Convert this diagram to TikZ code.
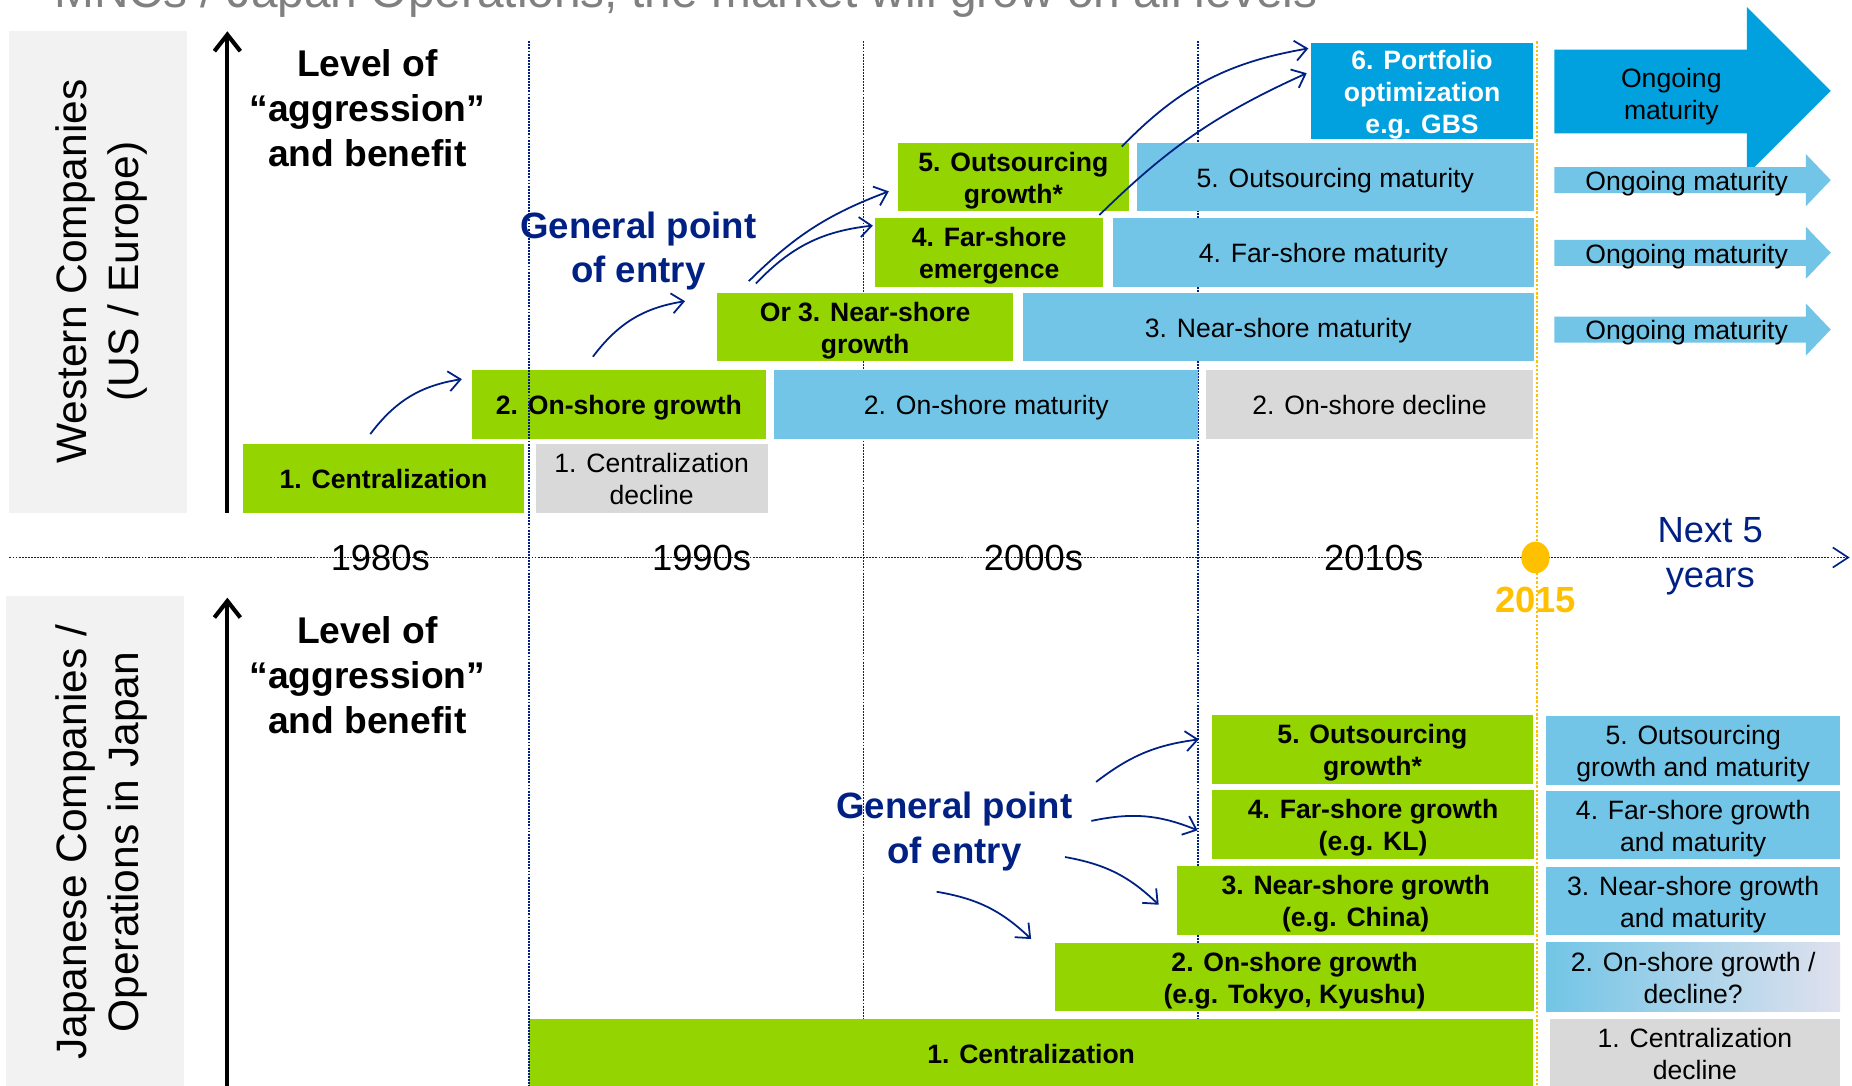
\documentclass[tikz,border=0pt]{standalone}
\usepackage{fontspec}
\setmainfont{Liberation Sans}
\usetikzlibrary{arrows.meta}

\definecolor{lime}{RGB}{148,212,0}
\definecolor{sky}{RGB}{114,197,230}
\definecolor{ocean}{RGB}{0,161,222}
\definecolor{stone}{RGB}{217,217,217}
\definecolor{mist}{RGB}{242,242,242}
\definecolor{inkblue}{RGB}{0,33,131}
\definecolor{amber}{RGB}{255,192,0}
\definecolor{titlegray}{RGB}{128,128,128}
\definecolor{lavender}{RGB}{224,225,238}
\definecolor{haze}{RGB}{192,195,218}

% fixed line box for the stage labels, so every label sits at the same height
\newcommand\capstrut{\rule{0pt}{22.5pt}}
\newcommand\footstrut{\rule[-5pt]{0pt}{5pt}}

\begin{document}
\begin{tikzpicture}[x=1pt,y=-1pt,
  txt/.style={inner sep=0pt, align=center, font=\fontsize{22.5}{27}\selectfont},
  boxbase/.style={txt, rectangle, minimum height=58pt},
  growbox/.style={boxbase, fill=lime, font=\fontsize{22.5}{27}\selectfont\bfseries},
  maturebox/.style={boxbase, fill=sky},
  declinebox/.style={boxbase, fill=stone},
  gbsbox/.style={boxbase, fill=ocean, text=white, font=\fontsize{22.5}{27}\selectfont\bfseries},
  decadeline/.style={inkblue, line width=1.4pt, dash pattern=on 1.6pt off 1pt},
  nowline/.style={amber, line width=1.6pt, dash pattern=on 2pt off 1.6pt},
  levelaxis/.style={line width=3.5pt, -{Straight Barb[length=14pt,width=22pt]}},
  flow/.style={inkblue, line width=1.5pt, -{Straight Barb[length=10pt,width=17pt]}},
  levelnote/.style={inner sep=0pt, align=center, font=\fontsize{31.5}{38}\selectfont\bfseries},
  entrynote/.style={inner sep=0pt, align=center, text=inkblue, font=\fontsize{31}{38}\selectfont\bfseries},
  decade/.style={inner sep=0pt, anchor=base, font=\fontsize{30.8}{37}\selectfont},
  sidelabel/.style={inner sep=0pt, rotate=90, align=center, font=\fontsize{36}{44}\selectfont}
]
\useasboundingbox (0,0) rectangle (1568,919);
\clip (0,0) rectangle (1568,919);

% heading, cut by the top edge
\node[anchor=base west, inner sep=0pt, text=titlegray, font=\fontsize{40.5}{48}\selectfont] (title) at (46,6.2)
  {MNCs / Japan Operations, the market will grow on all levels};

% side panels
\fill[mist] (7.5,26.5) rectangle (158.5,434);
\fill[mist] (5,505) rectangle (156,925);
\node[sidelabel] (west) at (86,230) {Western Companies\\(US / Europe)};
\node[sidelabel] (japan) at (86,713) {Japanese Companies /\\Operations in Japan};

% decade separators
\draw[decadeline] (731,35) -- (731,925);
\draw[decadeline] (1014,35) -- (1014,925);
\draw[nowline] (1301,35) -- (1301,925);

% time axis
\coordinate (tstart) at (8,472);
\coordinate (tend) at (1566,472);
\draw[decadeline, -{Straight Barb[length=13pt,width=17pt]}] (tstart) -- (tend);
\fill[amber] (1300,472) ellipse [x radius=12, y radius=13.4];

% level axes
\coordinate (upbase) at (192.5,434);
\coordinate (uptop) at (192.5,26.5);
\coordinate (lowbase) at (192.5,925);
\coordinate (lowtop) at (192.5,506);
\draw[levelaxis] (upbase) -- (uptop);
\draw[levelaxis] (lowbase) -- (lowtop);

% Western companies: stages
\node[growbox, minimum width=238.5pt] (u1) at (324.75,405) {\capstrut 1. Centralization\footstrut};
\node[declinebox, minimum width=196.5pt] (u1d) at (551.75,405) {\capstrut 1. Centralization\\decline\footstrut};
\node[growbox, minimum width=249pt, minimum height=58.5pt] (u2) at (524,342.25) {\capstrut 2. On-shore growth\footstrut};
\node[maturebox, minimum width=359pt, minimum height=58.5pt] (u2m) at (835,342.25) {\capstrut 2. On-shore maturity\footstrut};
\node[declinebox, minimum width=277pt, minimum height=58.5pt] (u2d) at (1159.5,342.25) {\capstrut 2. On-shore decline\footstrut};
\node[growbox, minimum width=251pt] (u3) at (732.5,277) {\capstrut Or 3. Near-shore\\growth\footstrut};
\node[maturebox, minimum width=432.5pt] (u3m) at (1082.25,277) {\capstrut 3. Near-shore maturity\footstrut};
\node[growbox, minimum width=193pt] (u4) at (837.5,213.75) {\capstrut 4. Far-shore\\emergence\footstrut};
\node[maturebox, minimum width=356pt] (u4m) at (1120.5,213.75) {\capstrut 4. Far-shore maturity\footstrut};
\node[growbox, minimum width=195pt] (u5) at (858,150) {\capstrut 5. Outsourcing\\growth*\footstrut};
\node[maturebox, minimum width=336pt] (u5m) at (1130.5,150) {\capstrut 5. Outsourcing maturity\footstrut};
\node[gbsbox, minimum width=188pt, minimum height=78.4pt] (u6) at (1204,77.2) {\capstrut 6. Portfolio\\optimization\\e.g. GBS\footstrut};

% Japanese companies: stages
\node[growbox, minimum width=272pt] (l5) at (1162,634.45) {\capstrut 5. Outsourcing\\growth*\footstrut};
\node[growbox, minimum width=273pt] (l4) at (1162.5,698) {\capstrut 4. Far-shore growth\\(e.g. KL)\footstrut};
\node[growbox, minimum width=302.5pt, minimum height=57.7pt] (l3) at (1147.75,762.45) {\capstrut 3. Near-shore growth\\(e.g. China)\footstrut};
\node[growbox, minimum width=406pt] (l2) at (1096,827.35) {\capstrut 2. On-shore growth\\(e.g. Tokyo, Kyushu)\footstrut};
\node[growbox, minimum width=850pt] (l1) at (873,891.8) {\capstrut 1. Centralization\footstrut};
\node[maturebox, minimum width=249pt] (r5) at (1433.5,635.35) {\capstrut 5. Outsourcing\\growth and maturity\footstrut};
\node[maturebox, minimum width=249pt, minimum height=57.8pt] (r4) at (1433.5,698.5) {\capstrut 4. Far-shore growth\\and maturity\footstrut};
\node[maturebox, minimum width=249pt] (r3) at (1433.5,763) {\capstrut 3. Near-shore growth\\and maturity\footstrut};
\node[boxbase, minimum width=249pt, left color=sky, middle color=haze, right color=lavender] (r2) at (1433.5,827.2) {\capstrut 2. On-shore growth /\\decline?\footstrut};
\node[declinebox, minimum width=246pt] (r1) at (1435,892) {\capstrut 1. Centralization\\decline\footstrut};

% 1990s separator runs over the boxes
\draw[decadeline] (448,35) -- (448,925);

% outlook arrows
\fill[ocean] (1316,42) -- (1479,42) -- (1479,6) -- (1550,77) -- (1479,148) -- (1479,113) -- (1316,113) -- cycle;
\node[txt] (bigout) at (1415,78.5) {\capstrut Ongoing\\maturity\footstrut};
\foreach \yy/\nm in {152.5/s1, 214/s2, 279/s3}{
  \fill[sky] (1316,\yy-11) -- (1529,\yy-11) -- (1529,\yy-22) -- (1550,\yy) -- (1529,\yy+22) -- (1529,\yy+11) -- (1316,\yy+11) -- cycle;
  \node[txt] (\nm) at (1428,\yy) {\capstrut Ongoing maturity\footstrut};
}

% axis texts
\node[levelnote] (lvlU) at (311,91.5) {Level of\\“aggression”\\and benefit};
\node[levelnote] (lvlL) at (311,571.5) {Level of\\“aggression”\\and benefit};
\node[entrynote] (gpU) at (540.5,212.5) {General point\\of entry};
\node[entrynote] (gpL) at (808,704.3) {General point\\of entry};

\node[decade] (d80) at (322,482.6) {1980s};
\node[decade] (d90) at (594,482.6) {1990s};
\node[decade] (d00) at (875,482.6) {2000s};
\node[decade] (d10) at (1163,482.6) {2010s};
\node[inner sep=0pt, anchor=base, text=amber, font=\fontsize{30.8}{37}\selectfont\bfseries] (y2015) at (1300,518.3) {2015};
\node[inner sep=0pt, align=center, text=inkblue, font=\fontsize{30.8}{38}\selectfont] (next) at (1448,470.7) {Next 5\\years};

% progression arrows, Western companies
\coordinate (a1s) at (313.5,367.5); \coordinate (a1e) at (391,321);
\coordinate (a2s) at (502,302);     \coordinate (a2e) at (580,255);
\coordinate (a3s) at (634,238);     \coordinate (a3e) at (752.5,162);
\coordinate (a4s) at (640,240);     \coordinate (a4e) at (739,191);
\coordinate (a5s) at (949.7,124.2); \coordinate (a5e) at (1107.7,41);
\coordinate (a6s) at (930.8,182);   \coordinate (a6e) at (1106.3,62);
\draw[flow] (a1s) to[bend left=22] (a1e);
\draw[flow] (a2s) to[bend left=22] (a2e);
\draw[flow] (a3s) to[bend left=12] (a3e);
\draw[flow] (a4s) to[bend left=20] (a4e);
\draw[flow] (a5s) to[bend left=18] (a5e);
\draw[flow] (a6s) to[bend left=10] (a6e);

% entry arrows, Japanese companies
\coordinate (b1s) at (928,662);     \coordinate (b1e) at (1015,626);
\coordinate (b2s) at (924,695);     \coordinate (b2e) at (1014,703);
\coordinate (b3s) at (901.6,725.6); \coordinate (b3e) at (981,766);
\coordinate (b4s) at (793,755);     \coordinate (b4e) at (873,795);
\draw[flow] (b1s) to[bend left=15] (b1e);
\draw[flow] (b2s) to[bend left=17] (b2e);
\draw[flow] (b3s) to[bend left=17] (b3e);
\draw[flow] (b4s) to[bend left=17] (b4e);
\end{tikzpicture}
\end{document}
